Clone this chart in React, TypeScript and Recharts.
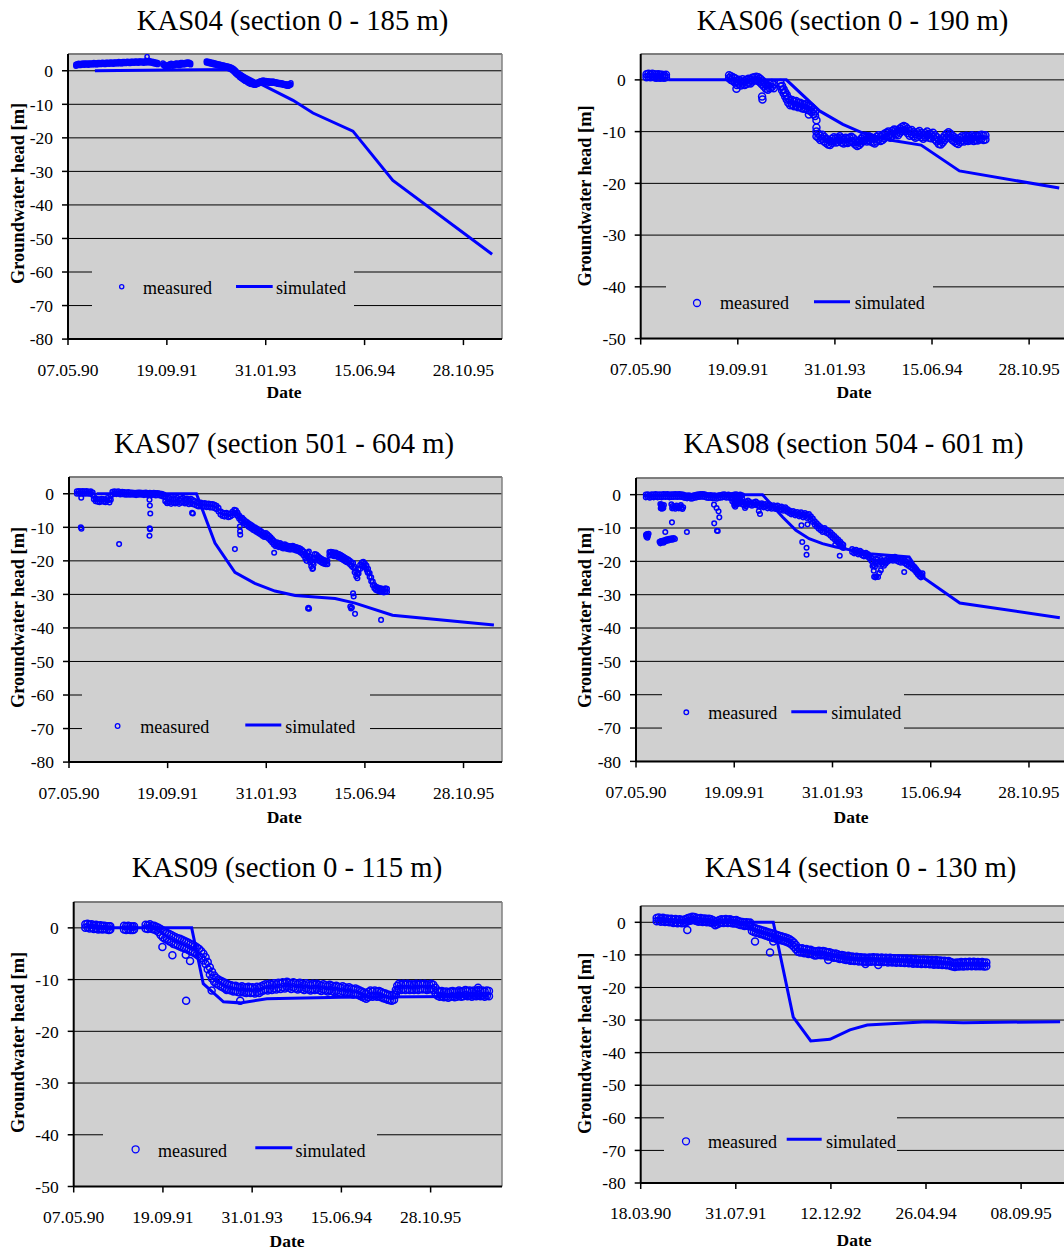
import {
  ComposedChart,
  Scatter,
  Line,
  XAxis,
  YAxis,
  CartesianGrid,
  ReferenceLine,
  Legend,
} from "recharts";

// Dates are Excel day serials (33000 = 07.05.90); heads in metres.
// Logger bands: [date, lowest reading, highest reading]; single readings: [date, head].
type Pt = [number, number];
type Band = [number, number, number];

const kas04Band: Band[] = [
  [33040,1.4,1.9],[33047,1.6,2.1],[33054,1.7,2.2],[33061,1.6,2.1],[33068,1.7,2.2],[33075,1.8,2.2],[33082,1.7,2.3],
  [33089,1.8,2.2],[33096,1.8,2.3],[33103,1.7,2.2],[33110,1.8,2.3],[33117,1.9,2.3],[33124,1.8,2.2],[33131,1.9,2.4],
  [33138,1.9,2.3],[33145,1.8,2.3],[33152,1.9,2.4],[33159,2.0,2.4],[33166,1.9,2.3],[33173,2.0,2.5],[33180,2.0,2.4],
  [33187,1.9,2.4],[33194,2.0,2.5],[33201,2.1,2.5],[33208,2.0,2.4],[33215,2.1,2.6],[33222,2.1,2.5],[33229,2.0,2.5],
  [33236,2.1,2.6],[33243,2.2,2.6],[33250,2.1,2.5],[33257,2.2,2.7],[33264,2.2,2.6],[33271,2.1,2.6],[33278,2.2,2.7],
  [33285,2.3,2.7],[33292,2.2,2.6],[33299,2.3,2.8],[33306,2.3,2.7],[33313,2.2,2.7],[33320,2.3,2.8],[33327,2.4,2.8],
  [33334,2.3,2.7],[33341,2.4,2.9],[33348,2.4,2.8],[33355,2.3,2.8],[33362,2.4,2.9],[33369,2.5,2.9],[33376,2.4,2.8],
  [33383,2.3,2.8],[33390,2.4,2.9],[33397,2.5,3.0],[33404,2.4,2.9],[33411,2.5,3.0],[33418,2.4,2.8],[33425,2.3,2.8],
  [33432,2.2,2.7],[33439,2.1,2.6],[33446,2.0,2.5],[33453,1.9,2.4],
  [33480,1.8,2.3],[33487,1.4,2.0],[33494,1.1,1.7],[33501,1.0,1.6],[33508,1.2,1.8],[33515,1.5,2.1],[33522,1.6,2.2],
  [33529,1.4,2.0],[33536,1.5,2.1],[33543,1.7,2.2],[33550,1.8,2.3],[33557,1.7,2.2],[33564,1.6,2.2],[33571,1.8,2.4],
  [33578,1.9,2.4],[33585,1.8,2.3],[33592,1.9,2.4],[33599,2.0,2.5],[33606,2.1,2.6],[33613,2.0,2.5],[33620,1.8,2.3],
  [33700,2.4,2.9],[33707,2.3,2.8],[33714,2.2,2.7],[33721,2.1,2.6],[33728,2.0,2.5],[33735,1.9,2.4],[33742,1.8,2.3],
  [33749,1.7,2.2],[33756,1.6,2.1],[33763,1.5,2.0],[33770,1.4,1.9],[33777,1.3,1.8],[33784,1.2,1.7],[33791,1.1,1.6],
  [33798,1.0,1.5],[33805,0.9,1.4],[33812,0.7,1.3],[33819,0.5,1.2],[33826,0.3,1.0],[33833,0.0,0.8],[33840,-0.4,0.5],
  [33847,-0.8,0.1],[33854,-1.2,-0.3],[33861,-1.5,-0.6],[33868,-1.9,-0.9],[33875,-2.2,-1.2],[33882,-2.5,-1.5],
  [33889,-2.8,-1.8],[33896,-3.1,-2.1],[33903,-3.3,-2.4],[33910,-3.6,-2.7],[33917,-3.8,-3.0],[33924,-4.0,-3.2],
  [33931,-4.1,-3.4],[33938,-4.2,-3.5],[33945,-4.3,-3.6],[33952,-4.2,-3.6],[33959,-4.0,-3.4],[33966,-3.8,-3.2],
  [33973,-3.6,-3.0],[33980,-3.5,-2.9],[33987,-3.4,-2.8],[33994,-3.4,-2.9],[34001,-3.5,-2.9],[34008,-3.6,-3.0],
  [34015,-3.6,-3.1],[34022,-3.7,-3.1],[34029,-3.7,-3.2],[34036,-3.6,-3.1],[34043,-3.7,-3.2],[34050,-3.8,-3.3],
  [34057,-3.9,-3.4],[34064,-4.0,-3.5],[34071,-4.1,-3.5],[34078,-4.1,-3.6],[34085,-4.2,-3.7],[34092,-4.3,-3.8],
  [34099,-4.4,-3.9],[34106,-4.5,-4.0],[34113,-4.6,-4.0],[34120,-4.4,-3.9],[34127,-4.2,-3.6],
];
const kas04Single: Pt[] = [[33400, 4.2]];
const kas04Simulated: Pt[] = [
  [33136, 0], [33500, 0.2], [33835, 0.4], [33986, -4.3], [34138, -8.8], [34239, -12.6],
  [34441, -18], [34643, -32.7], [35145, -54.7],
];

const kas06Band: Band[] = [
  [33030,0.5,1.1],[33040,0.6,1.2],[33050,0.5,1.0],[33060,0.6,1.2],[33070,0.5,1.1],[33080,0.4,1.0],[33090,0.5,1.1],
  [33100,0.4,1.0],[33110,0.5,1.0],[33120,0.4,0.9],[33130,0.5,1.0],
  [33455,0.3,0.9],[33465,0.0,0.7],[33475,-0.2,0.5],[33485,-0.5,0.3],[33495,-1.0,-0.2],[33505,-0.8,0.0],
  [33515,-1.1,-0.3],[33525,-0.7,0.1],[33535,-1.0,-0.2],[33545,-0.8,0.0],[33555,-0.6,0.2],[33565,-0.7,0.0],
  [33575,-0.3,0.4],[33585,-0.1,0.5],[33595,0.0,0.6],[33605,-0.2,0.5],[33615,-0.5,0.2],[33625,-0.9,-0.1],
  [33635,-1.3,-0.5],[33645,-1.7,-0.9],[33655,-1.9,-1.1],[33665,-1.6,-0.8],[33675,-1.4,-0.6],[33685,-1.6,-0.9],
  [33720,-1.3,-0.6],[33728,-2.0,-1.2],[33736,-2.6,-1.8],[33744,-3.2,-2.4],[33752,-3.8,-2.9],[33760,-4.4,-3.5],
  [33770,-4.9,-4.0],[33780,-4.8,-3.9],[33790,-5.1,-4.2],[33800,-5.0,-4.1],[33810,-5.3,-4.4],[33820,-5.2,-4.4],
  [33830,-5.5,-4.6],[33840,-5.6,-4.8],[33850,-5.5,-4.7],[33860,-5.8,-5.0],[33870,-5.9,-5.1],[33880,-6.2,-5.3],
  [33890,-6.6,-5.7],[33898,-7.0,-6.1],
  [33905,-10.9,-10.0],[33915,-11.2,-10.4],[33925,-11.6,-10.8],[33935,-11.4,-10.6],[33945,-11.9,-11.0],
  [33955,-12.2,-11.4],[33965,-12.5,-11.6],[33975,-12.6,-11.8],[33985,-12.2,-11.4],[33995,-11.9,-11.1],
  [34005,-12.1,-11.3],[34015,-12.0,-11.2],[34025,-11.7,-10.9],[34035,-12.1,-11.3],[34045,-12.3,-11.5],
  [34055,-12.0,-11.2],[34065,-12.2,-11.4],[34075,-12.0,-11.2],[34085,-11.8,-11.0],[34095,-12.1,-11.3],
  [34105,-12.5,-11.7],[34115,-12.8,-12.0],[34125,-12.6,-11.8],[34135,-12.2,-11.4],[34145,-11.8,-11.0],
  [34155,-11.6,-10.8],[34165,-11.9,-11.1],[34175,-11.7,-10.9],[34185,-11.9,-11.1],[34195,-12.1,-11.3],
  [34205,-12.3,-11.4],[34215,-11.9,-11.0],[34225,-11.5,-10.7],[34235,-11.8,-11.0],[34245,-11.6,-10.7],
  [34255,-11.3,-10.4],[34265,-11.0,-10.2],[34275,-10.9,-10.0],[34285,-11.2,-10.4],[34295,-10.8,-9.9],
  [34305,-10.4,-9.6],[34315,-10.5,-9.7],[34325,-10.7,-9.8],[34335,-10.2,-9.4],[34345,-9.9,-9.1],
  [34355,-9.7,-8.9],[34365,-9.9,-9.1],[34375,-10.3,-9.5],[34385,-10.8,-9.9],[34395,-10.5,-9.7],
  [34405,-10.9,-10.1],[34415,-11.2,-10.4],[34425,-11.0,-10.1],[34435,-10.7,-9.9],[34445,-11.1,-10.3],
  [34455,-11.4,-10.6],[34465,-11.1,-10.3],[34475,-10.8,-10.0],[34485,-11.2,-10.4],[34495,-11.3,-10.5],
  [34505,-11.0,-10.2],[34515,-11.5,-10.7],[34525,-11.9,-11.1],[34535,-12.4,-11.6],[34545,-12.5,-11.7],
  [34555,-12.1,-11.3],[34565,-11.6,-10.8],[34575,-11.2,-10.4],[34585,-10.9,-10.1],[34595,-11.2,-10.4],
  [34605,-11.6,-10.8],[34615,-11.9,-11.1],[34625,-12.2,-11.4],[34635,-12.4,-11.6],[34645,-12.0,-11.2],
  [34655,-11.7,-10.9],[34665,-11.9,-11.1],[34675,-11.6,-10.8],[34685,-11.8,-11.0],[34695,-11.7,-10.9],
  [34705,-11.5,-10.7],[34715,-11.8,-11.0],[34725,-11.6,-10.8],[34735,-11.7,-10.9],[34745,-11.5,-10.7],
  [34755,-11.4,-10.6],[34765,-11.6,-10.8],[34775,-11.5,-10.7],
];
const kas06Single: Pt[] = [[33493, -1.7], [33625, -3.2], [33627, -3.8], [33866, -6.7], [33905, -7.8], [33905, -9.2]];
const kas06Simulated: Pt[] = [
  [33142, 0], [33750, 0], [33921, -6.0], [34041, -8.6], [34144, -10.3], [34298, -11.7],
  [34444, -12.6], [34641, -17.6], [35155, -20.9],
];

const kas07Band: Band[] = [
  [33040,0.0,0.7],[33050,0.1,0.8],[33060,0.0,0.7],[33070,0.1,0.8],[33080,0.0,0.7],[33090,0.1,0.8],[33100,0.0,0.6],
  [33110,0.0,0.7],[33120,-0.4,0.4],[33126,-1.6,-0.6],[33135,-2.2,-1.4],[33145,-2.4,-1.6],[33155,-2.5,-1.7],
  [33165,-2.2,-1.5],[33175,-2.4,-1.6],[33185,-2.5,-1.8],[33195,-2.1,-1.3],[33205,-2.6,-1.8],[33212,-1.8,-0.6],
  [33220,-0.2,0.6],[33230,0.0,0.7],[33240,-0.1,0.6],[33250,0.0,0.7],[33260,-0.2,0.5],[33270,-0.1,0.6],
  [33280,-0.2,0.5],[33290,-0.3,0.4],[33300,-0.2,0.5],[33310,-0.3,0.4],[33320,-0.2,0.4],[33330,-0.3,0.3],
  [33340,-0.4,0.3],[33350,-0.3,0.4],[33360,-0.2,0.4],[33370,-0.3,0.3],[33380,-0.4,0.3],[33390,-0.3,0.4],
  [33400,-0.4,0.2],[33410,-0.3,0.3],[33420,-0.4,0.2],[33430,-0.3,0.3],[33440,-0.5,0.2],[33450,-0.4,0.2],
  [33460,-0.5,0.1],[33470,-0.7,0.0],[33480,-0.9,-0.2],
  [33488,-2.2,-1.0],[33498,-2.8,-1.4],[33508,-2.5,-1.2],[33518,-3.0,-1.6],[33528,-2.7,-1.3],[33538,-2.9,-1.5],
  [33548,-2.6,-1.2],[33558,-3.0,-1.7],[33568,-2.7,-1.4],[33578,-2.5,-1.2],[33588,-2.9,-1.6],[33598,-2.7,-1.4],
  [33608,-3.1,-1.8],[33618,-2.8,-1.5],[33628,-3.1,-1.9],[33638,-3.3,-2.2],
  [33648,-3.6,-2.6],[33658,-3.8,-2.8],[33668,-3.5,-2.6],[33678,-3.9,-2.9],[33688,-3.7,-2.8],[33698,-4.0,-3.0],
  [33708,-3.8,-2.9],[33718,-4.1,-3.1],[33728,-4.0,-3.1],[33738,-4.3,-3.3],[33748,-4.6,-3.6],[33758,-5.3,-4.2],
  [33768,-6.2,-5.2],[33778,-6.6,-5.6],[33788,-6.8,-5.8],[33798,-6.6,-5.7],[33808,-7.0,-6.0],[33818,-6.8,-5.9],
  [33828,-6.4,-5.4],[33838,-5.8,-4.8],[33846,-5.9,-4.9],[33854,-6.6,-5.6],
  [33862,-7.4,-6.4],[33870,-8.0,-7.0],[33878,-8.2,-7.2],[33886,-8.7,-7.7],[33894,-9.1,-8.1],[33902,-9.4,-8.4],
  [33910,-9.8,-8.8],[33918,-10.1,-9.1],[33926,-10.4,-9.4],[33934,-10.8,-9.8],[33942,-11.0,-10.0],
  [33950,-11.3,-10.3],[33958,-11.6,-10.6],[33966,-11.9,-10.9],[33974,-12.2,-11.2],[33982,-12.6,-11.6],
  [33990,-12.9,-11.9],[33998,-12.7,-11.7],[34006,-13.1,-12.1],[34014,-13.5,-12.5],[34022,-14.0,-13.0],
  [34030,-14.5,-13.5],[34038,-15.1,-14.0],[34046,-15.6,-14.6],[34054,-15.5,-14.5],[34062,-15.9,-14.9],
  [34070,-15.7,-14.7],[34078,-16.1,-15.1],[34086,-16.3,-15.3],[34094,-16.1,-15.1],[34102,-16.4,-15.4],
  [34110,-16.5,-15.5],[34118,-16.6,-15.6],[34126,-16.6,-15.7],[34134,-16.5,-15.5],[34142,-16.7,-15.7],
  [34150,-16.9,-15.9],[34158,-17.0,-16.0],[34166,-17.2,-16.2],[34174,-17.5,-16.4],[34182,-17.9,-16.8],
  [34190,-18.4,-17.2],[34198,-19.3,-17.8],[34204,-20.0,-18.5],[34210,-19.0,-17.6],[34216,-18.5,-17.2],
  [34222,-20.4,-18.8],[34228,-21.6,-20.0],[34234,-22.4,-20.6],[34240,-21.0,-19.2],[34246,-19.3,-18.0],
  [34254,-19.3,-18.1],[34262,-19.8,-18.6],[34270,-20.1,-19.0],[34278,-20.4,-19.3],[34286,-20.7,-19.6],
  [34294,-20.9,-19.8],[34302,-21.0,-19.9],[34310,-21.0,-20.0],
  [34320,-18.4,-17.4],[34328,-18.3,-17.3],[34336,-18.4,-17.4],[34344,-18.6,-17.6],[34352,-18.5,-17.5],
  [34360,-18.8,-17.8],[34368,-19.0,-18.0],[34376,-19.2,-18.2],[34384,-19.5,-18.5],[34392,-19.8,-18.8],
  [34400,-20.1,-19.1],[34408,-20.4,-19.4],[34416,-20.6,-19.6],[34424,-21.0,-20.0],[34432,-21.5,-20.4],
  [34440,-22.0,-20.6],[34448,-23.4,-21.8],[34456,-24.6,-23.2],[34462,-25.2,-23.8],[34468,-23.8,-22.4],
  [34476,-22.4,-21.2],[34484,-21.6,-20.5],[34492,-21.4,-20.3],[34500,-21.9,-20.8],[34508,-22.6,-21.4],
  [34516,-23.6,-22.4],[34524,-24.8,-23.6],[34532,-26.1,-24.9],[34540,-27.3,-26.2],[34548,-28.2,-27.2],
  [34556,-28.7,-27.7],[34564,-28.9,-27.9],[34572,-29.1,-28.1],[34580,-29.2,-28.2],[34588,-29.3,-28.3],
  [34596,-29.4,-28.4],[34604,-29.2,-28.2],[34612,-29.3,-28.3],
];
const kas07Single: Pt[] = [
  [33062, -1.2], [33060, -10.0], [33063, -10.4], [33254, -15.0], [33408, -1.8], [33410, -3.5],
  [33412, -5.9], [33409, -10.3], [33411, -10.6], [33408, -12.5], [33497, -2.7], [33624, -5.7],
  [33628, -5.9], [33841, -16.5], [33866, -9.8], [33867, -11.2], [33868, -12.2], [34040, -17.6],
  [34214, -34.0], [34217, -34.3], [34212, -34.2], [34237, -22.2], [34513, -23.3], [34440, -29.7],
  [34443, -30.6], [34426, -33.6], [34430, -34.2], [34434, -33.9], [34450, -35.8], [34582, -37.6],
];
const kas07Simulated: Pt[] = [
  [33140, 0], [33646, 0], [33740, -14.7], [33841, -23.4], [33942, -26.7], [34044, -29.0],
  [34146, -30.3], [34349, -31.2], [34450, -32.6], [34640, -36.2], [35154, -39.1],
];

const kas08Band: Band[] = [
  [33050,-0.8,0.0],[33060,-0.7,0.1],[33070,-0.9,-0.1],[33080,-0.7,0.1],[33090,-0.8,0.0],[33100,-0.6,0.2],
  [33110,-0.8,0.0],[33120,-0.7,0.1],[33130,-0.8,0.0],[33140,-0.6,0.2],[33150,-0.7,0.1],[33160,-0.6,0.2],
  [33170,-0.8,0.0],[33180,-0.7,0.1],[33190,-0.7,0.1],[33200,-0.6,0.2],[33210,-0.7,0.1],[33220,-0.6,0.2],
  [33230,-0.7,0.1],[33240,-0.8,0.0],[33250,-1.0,-0.2],[33260,-1.1,-0.3],[33270,-1.0,-0.2],[33280,-1.2,-0.4],
  [33290,-1.1,-0.3],[33300,-0.9,-0.1],[33310,-0.8,0.0],[33320,-0.7,0.1],[33330,-0.6,0.2],[33340,-0.6,0.2],
  [33350,-0.7,0.1],[33360,-0.9,-0.1],[33370,-1.0,-0.2],[33380,-0.9,-0.1],[33390,-1.1,-0.3],[33400,-1.0,-0.2],
  [33410,-1.2,-0.4],[33420,-1.0,-0.2],[33430,-0.9,-0.1],[33440,-0.8,0.0],[33450,-0.7,0.1],[33460,-0.9,-0.1],
  [33470,-0.8,0.0],[33480,-1.0,-0.2],[33490,-0.9,-0.1],[33500,-0.8,0.0],[33510,-0.7,0.1],[33520,-0.9,-0.1],
  [33530,-0.8,0.0],[33540,-1.0,-0.2],
  [33490,-2.0,-1.2],[33500,-2.6,-1.8],[33510,-3.0,-2.2],[33520,-2.8,-2.0],[33530,-2.5,-1.7],[33540,-2.9,-2.1],
  [33550,-3.2,-2.4],[33560,-2.9,-2.1],[33570,-2.6,-1.8],[33580,-3.0,-2.2],[33590,-3.3,-2.5],[33600,-3.1,-2.3],
  [33610,-2.9,-2.1],[33620,-3.3,-2.5],[33630,-3.6,-2.8],[33640,-3.4,-2.6],[33650,-3.8,-3.0],[33660,-3.6,-2.8],
  [33670,-4.1,-3.3],[33680,-3.8,-3.0],[33690,-4.2,-3.4],[33700,-4.0,-3.2],[33710,-4.3,-3.5],[33720,-4.1,-3.3],
  [33730,-4.6,-3.8],[33740,-4.4,-3.6],[33750,-4.8,-4.0],[33760,-4.6,-3.8],[33770,-5.1,-4.3],[33780,-5.5,-4.7],
  [33790,-5.9,-5.1],[33800,-5.7,-4.9],[33810,-6.2,-5.4],[33820,-6.0,-5.2],[33830,-6.5,-5.7],[33840,-6.3,-5.3],
  [33850,-6.8,-5.8],[33860,-6.5,-5.5],[33870,-7.0,-6.0],[33880,-6.8,-5.8],[33890,-7.5,-6.5],[33900,-8.2,-7.2],
  [33910,-9.0,-8.0],[33920,-9.6,-8.6],[33930,-10.2,-9.2],[33940,-10.7,-9.7],[33950,-11.2,-10.2],
  [33960,-11.0,-10.0],[33970,-11.5,-10.5],[33980,-11.8,-10.8],[33990,-12.3,-11.3],[34000,-12.9,-11.9],
  [34010,-13.4,-12.4],[34020,-14.0,-13.0],[34030,-14.5,-13.5],[34040,-15.1,-14.1],[34048,-15.7,-14.7],
  [34055,-16.0,-15.0],
  [34100,-17.2,-16.3],[34110,-17.6,-16.7],[34120,-17.4,-16.5],[34130,-17.9,-17.0],[34140,-17.7,-16.8],
  [34150,-18.2,-17.3],[34160,-18.5,-17.6],[34170,-18.3,-17.4],[34180,-18.7,-17.8],[34190,-19.2,-18.3],
  [34198,-19.9,-18.9],[34204,-21.4,-20.0],[34210,-22.8,-21.2],[34216,-21.6,-20.2],[34222,-20.2,-19.2],
  [34230,-20.5,-19.4],[34238,-21.0,-20.0],[34246,-20.3,-19.3],[34254,-20.9,-19.8],[34262,-21.3,-20.3],
  [34270,-20.7,-19.7],[34278,-20.2,-19.3],[34288,-19.8,-18.9],[34298,-19.6,-18.7],[34308,-19.8,-18.9],
  [34318,-19.5,-18.6],[34328,-19.9,-19.0],[34338,-20.2,-19.3],[34348,-20.4,-19.5],[34358,-20.1,-19.2],
  [34368,-20.6,-19.7],[34378,-21.0,-20.1],[34388,-21.4,-20.5],[34398,-21.8,-20.9],[34408,-22.2,-21.3],
  [34418,-22.7,-21.7],[34426,-23.3,-22.3],[34434,-23.9,-22.9],[34442,-24.4,-23.4],[34450,-24.8,-23.8],
  [34458,-24.5,-23.6],
];
const kas08Single: Pt[] = [
  [33124, -2.8], [33127, -3.3], [33130, -3.8], [33133, -4.2], [33136, -3.5], [33139, -4.0], [33142, -3.1],
  [33126, -4.1], [33132, -3.0],
  [33180, -2.9], [33186, -3.4], [33190, -4.0], [33196, -3.6], [33200, -4.2], [33206, -3.3], [33212, -3.8],
  [33218, -4.1], [33224, -3.5], [33230, -4.0], [33236, -4.3], [33240, -3.8], [33184, -4.1], [33228, -3.1],
  [33051, -12.0], [33053, -12.6], [33056, -11.8], [33058, -12.9], [33061, -12.3], [33064, -11.7], [33055, -12.3],
  [33120, -14.1], [33124, -14.6], [33130, -14.3], [33134, -13.8], [33140, -14.4], [33146, -13.6], [33150, -14.0],
  [33156, -13.4], [33162, -13.8], [33168, -13.2], [33174, -13.6], [33180, -13.1], [33186, -13.5], [33192, -13.0],
  [33198, -13.3], [33128, -13.9], [33144, -14.1],
  [33149, -11.2], [33183, -8.3], [33259, -11.2], [33397, -3.0], [33410, -4.0], [33420, -5.0], [33424, -6.8],
  [33398, -8.6], [33412, -10.8], [33416, -10.9], [33500, -3.2], [33505, -3.6], [33555, -4.0], [33560, -3.5],
  [33625, -4.9], [33631, -5.8],
  [33842, -9.2], [33873, -8.9], [33846, -14.2], [33868, -15.9], [33868, -18.0], [34014, -15.0], [34037, -18.3],
  [34212, -24.6], [34218, -24.8], [34224, -24.5], [34232, -24.7], [34246, -22.7], [34238, -23.5], [34365, -23.2],
];
const kas08Simulated: Pt[] = [
  [33140, 0], [33644, 0], [33746, -6.7], [33814, -10.7], [33881, -13.2], [33949, -14.7],
  [34017, -15.7], [34102, -16.7], [34187, -17.7], [34390, -18.7], [34458, -24.7], [34648, -32.5],
  [35157, -36.9],
];

const kas09Band: Band[] = [
  [33065,0.0,0.7],[33077,0.1,0.8],[33089,-0.1,0.6],[33101,0.0,0.7],[33113,-0.2,0.5],[33125,-0.1,0.6],
  [33137,-0.3,0.4],[33149,-0.2,0.5],[33161,-0.3,0.4],[33173,-0.2,0.4],[33185,-0.3,0.3],[33197,-0.4,0.3],
  [33205,-0.3,0.3],
  [33282,-0.3,0.4],[33294,-0.4,0.3],[33306,-0.3,0.4],[33318,-0.4,0.3],[33330,-0.4,0.2],[33338,-0.3,0.3],
  [33403,-0.1,0.6],[33415,-0.2,0.5],[33427,0.0,0.7],[33439,-0.2,0.4],[33451,-0.3,0.4],[33463,-0.5,0.2],
  [33475,-0.8,0.0],
  [33487,-1.4,-0.2],[33499,-1.8,-0.5],[33511,-2.1,-0.8],[33523,-2.3,-1.0],[33535,-2.6,-1.2],[33547,-2.8,-1.4],
  [33559,-3.1,-1.6],[33571,-3.2,-1.8],[33583,-3.4,-2.0],[33595,-3.6,-2.1],[33607,-3.8,-2.3],[33619,-3.9,-2.5],
  [33631,-4.1,-2.7],[33643,-4.3,-2.9],[33655,-4.5,-3.1],[33667,-4.7,-3.3],[33679,-4.9,-3.5],[33691,-5.2,-3.8],
  [33703,-5.5,-4.1],[33715,-5.8,-4.5],[33727,-6.3,-5.0],[33739,-7.0,-5.7],[33751,-8.0,-6.6],[33763,-9.0,-7.6],
  [33775,-9.8,-8.5],[33787,-10.4,-9.2],[33799,-10.8,-9.7],[33811,-11.0,-10.0],[33823,-11.3,-10.2],
  [33835,-11.5,-10.4],[33847,-11.7,-10.6],[33859,-11.9,-10.8],[33871,-12.0,-11.0],
  [33883,-12.1,-11.1],[33895,-12.3,-11.3],[33907,-12.2,-11.2],[33919,-12.4,-11.4],[33931,-12.5,-11.5],
  [33943,-12.3,-11.3],[33955,-12.5,-11.5],[33967,-12.6,-11.6],[33979,-12.4,-11.4],[33991,-12.6,-11.6],
  [34003,-12.5,-11.5],[34015,-12.7,-11.7],[34027,-12.4,-11.4],[34039,-12.6,-11.6],[34051,-12.3,-11.3],
  [34063,-12.1,-11.1],[34075,-11.9,-10.9],[34087,-12.1,-11.1],[34099,-11.8,-10.8],[34111,-12.0,-11.0],
  [34123,-11.7,-10.7],[34135,-11.9,-10.9],[34147,-11.6,-10.6],[34159,-11.8,-10.8],[34171,-11.5,-10.5],
  [34183,-11.7,-10.7],[34195,-11.4,-10.4],[34207,-11.6,-10.6],[34219,-11.8,-10.8],[34231,-11.5,-10.5],
  [34243,-11.7,-10.7],[34255,-11.9,-10.9],[34267,-11.6,-10.6],[34279,-11.8,-10.8],[34291,-12.0,-11.0],
  [34303,-11.7,-10.7],[34315,-11.9,-10.9],[34327,-12.1,-11.1],[34339,-11.8,-10.8],[34351,-12.0,-11.0],
  [34363,-11.8,-10.8],[34375,-12.0,-11.0],[34387,-12.2,-11.2],[34399,-11.9,-10.9],[34411,-12.1,-11.1],
  [34423,-12.3,-11.3],[34435,-12.0,-11.0],[34447,-12.2,-11.2],[34459,-12.4,-11.4],[34471,-12.2,-11.2],
  [34483,-12.4,-11.4],[34495,-12.6,-11.6],[34507,-12.3,-11.3],[34519,-12.5,-11.5],[34531,-12.7,-11.7],
  [34543,-12.5,-11.5],[34555,-12.7,-11.7],[34567,-12.9,-11.9],[34579,-12.7,-11.7],[34591,-12.9,-11.9],
  [34603,-13.1,-12.1],[34615,-13.3,-12.3],[34627,-13.5,-12.5],[34639,-13.7,-12.7],[34651,-13.4,-12.4],
  [34663,-13.1,-12.1],[34675,-13.3,-12.3],[34687,-13.1,-12.1],[34699,-13.3,-12.3],[34711,-13.2,-12.2],
  [34723,-13.4,-12.4],[34735,-13.6,-12.6],[34747,-13.7,-12.7],[34759,-13.9,-12.9],[34771,-14.0,-13.0],
  [34783,-14.1,-13.1],[34795,-13.9,-12.9],[34805,-13.0,-12.0],[34813,-12.2,-11.2],[34823,-11.8,-10.8],
  [34835,-12.0,-11.0],[34847,-11.8,-10.8],[34859,-12.0,-11.0],[34871,-11.8,-10.8],[34883,-12.0,-11.0],
  [34895,-11.9,-10.9],[34907,-12.0,-11.0],[34919,-11.8,-10.8],[34931,-12.0,-11.0],[34943,-11.8,-10.8],
  [34955,-11.9,-10.9],[34967,-11.8,-10.8],[34979,-12.0,-11.0],[34991,-11.9,-10.9],[35003,-11.8,-10.8],
  [35015,-12.0,-11.0],[35027,-12.6,-11.6],[35039,-13.1,-12.1],[35051,-13.3,-12.3],[35063,-13.2,-12.2],
  [35075,-13.4,-12.4],[35087,-13.3,-12.3],[35099,-13.5,-12.5],[35111,-13.3,-12.3],[35123,-13.2,-12.2],
  [35135,-13.4,-12.4],[35147,-13.3,-12.3],[35159,-13.1,-12.1],[35171,-13.3,-12.3],[35183,-13.2,-12.2],
  [35195,-13.0,-12.0],[35207,-13.2,-12.2],[35219,-13.1,-12.1],[35231,-13.3,-12.3],[35243,-13.1,-12.1],
  [35255,-13.2,-12.2],[35267,-13.0,-12.0],[35279,-13.2,-12.2],[35291,-13.1,-12.1],[35303,-13.3,-12.3],
  [35315,-13.1,-12.1],[35327,-13.2,-12.2],
];
const kas09Single: Pt[] = [
  [33497, -3.7], [33553, -5.3], [33628, -5.2], [33652, -6.4], [33630, -14.1], [33773, -12.1],
  [33857, -12.0], [33933, -14.1], [35266, -11.6],
];
const kas09Simulated: Pt[] = [
  [33140, 0], [33661, 0], [33726, -10.8], [33839, -14.3], [33933, -14.5], [34082, -13.7],
  [34500, -13.4], [35326, -13.2],
];

const kas14Band: Band[] = [
  [33034,0.3,1.3],[33045,0.5,1.5],[33056,0.2,1.2],[33067,0.4,1.4],[33078,0.1,1.1],[33089,0.2,1.2],[33100,0.0,1.0],
  [33111,0.1,1.1],[33122,-0.2,0.8],[33133,0.0,1.0],[33144,-0.3,0.7],[33155,-0.1,0.9],[33166,-0.3,0.7],
  [33177,-0.2,0.8],[33188,0.0,1.0],[33199,0.3,1.3],[33210,0.5,1.5],[33221,0.7,1.7],[33232,0.6,1.6],
  [33243,0.4,1.4],[33254,0.2,1.2],[33265,0.3,1.3],[33276,0.1,1.1],[33287,0.2,1.2],[33298,0.0,1.0],
  [33309,0.1,1.1],[33320,-0.1,0.9],[33331,-0.4,0.6],[33342,-0.9,0.1],[33353,-0.6,0.4],[33364,-0.3,0.7],
  [33375,-0.1,0.9],[33386,-0.2,0.8],[33397,0.0,1.0],[33408,-0.2,0.8],[33419,-0.1,0.9],[33430,-0.3,0.7],
  [33441,-0.4,0.6],[33452,-0.3,0.7],[33463,-0.6,0.4],[33474,-0.8,0.2],[33485,-0.9,0.1],[33496,-1.1,-0.1],
  [33507,-1.0,0.0],[33518,-1.2,-0.2],[33525,-1.1,-0.1],
  [33535,-2.7,-1.4],[33546,-3.0,-1.7],[33557,-3.2,-1.9],[33568,-3.3,-2.1],[33579,-3.6,-2.3],[33590,-3.7,-2.5],
  [33601,-4.0,-2.7],[33612,-4.1,-2.9],[33623,-4.4,-3.1],[33634,-4.5,-3.3],[33645,-4.8,-3.5],[33656,-4.9,-3.7],
  [33667,-5.2,-3.9],[33678,-5.3,-4.1],[33689,-5.5,-4.3],[33700,-5.7,-4.5],[33711,-5.9,-4.7],[33722,-6.1,-4.9],
  [33733,-6.4,-5.2],[33744,-6.9,-5.7],[33755,-7.5,-6.2],[33766,-8.3,-7.0],[33777,-9.0,-7.8],[33788,-9.3,-8.1],
  [33799,-9.2,-8.0],[33810,-9.5,-8.3],[33821,-9.4,-8.2],[33832,-9.7,-8.5],[33843,-9.6,-8.4],[33854,-9.9,-8.7],
  [33865,-10.2,-9.0],[33876,-10.1,-8.9],[33887,-9.9,-8.7],[33898,-10.1,-8.9],[33909,-10.0,-8.8],
  [33920,-10.2,-9.0],[33931,-10.5,-9.3],[33942,-10.4,-9.2],[33953,-10.6,-9.4],[33964,-10.9,-9.7],
  [33975,-10.8,-9.6],[33986,-11.0,-9.8],[33997,-11.3,-10.1],[34008,-11.2,-10.0],[34019,-11.4,-10.2],
  [34030,-11.6,-10.4],[34041,-11.5,-10.3],[34052,-11.8,-10.6],[34063,-11.7,-10.5],[34074,-11.9,-10.7],
  [34085,-11.8,-10.6],[34096,-12.0,-10.8],[34107,-11.9,-10.7],[34118,-12.1,-10.9],[34129,-12.0,-10.8],
  [34140,-12.2,-11.0],[34151,-12.0,-10.8],[34162,-12.1,-10.9],[34173,-11.9,-10.7],[34184,-12.1,-10.9],
  [34195,-12.0,-10.8],[34206,-12.2,-11.0],[34217,-12.0,-10.8],[34228,-12.2,-11.0],[34239,-12.1,-10.9],
  [34250,-12.3,-11.1],[34261,-12.1,-10.9],[34272,-12.3,-11.1],[34283,-12.2,-11.0],[34294,-12.4,-11.2],
  [34305,-12.2,-11.0],[34316,-12.4,-11.2],[34327,-12.3,-11.1],[34338,-12.5,-11.3],[34349,-12.3,-11.1],
  [34360,-12.6,-11.4],[34371,-12.4,-11.2],[34382,-12.7,-11.5],[34393,-12.5,-11.3],[34404,-12.7,-11.5],
  [34415,-12.6,-11.4],[34426,-12.8,-11.6],[34437,-12.6,-11.4],[34448,-12.8,-11.6],[34459,-12.7,-11.5],
  [34470,-12.9,-11.7],[34481,-12.8,-11.6],[34492,-13.0,-11.8],[34503,-12.8,-11.6],[34514,-13.0,-11.8],
  [34525,-12.9,-11.7],[34536,-13.1,-11.9],[34547,-13.0,-11.8],[34558,-13.2,-12.0],[34569,-13.1,-11.9],
  [34580,-13.4,-12.2],[34591,-13.6,-12.4],[34602,-13.7,-12.5],[34613,-13.5,-12.3],[34624,-13.6,-12.4],
  [34635,-13.4,-12.2],[34646,-13.6,-12.4],[34657,-13.4,-12.2],[34668,-13.5,-12.3],[34679,-13.3,-12.1],
  [34690,-13.5,-12.3],[34701,-13.3,-12.1],[34712,-13.5,-12.3],[34723,-13.4,-12.2],[34734,-13.5,-12.3],
  [34745,-13.4,-12.2],[34756,-13.6,-12.4],[34767,-13.5,-12.3],
];
const kas14Single: Pt[] = [
  [33195, -2.4], [33551, -5.9], [33630, -9.3], [33647, -5.9], [33670, -5.3], [33936, -11.6],
  [34132, -12.8], [34199, -13.1],
];
const kas14Simulated: Pt[] = [
  [33140, 0], [33647, 0], [33752, -29.1], [33844, -36.4], [33945, -35.9], [34050, -33.0],
  [34141, -31.5], [34454, -30.5], [34646, -30.8], [35155, -30.5],
];

const dateTicks = [33000, 33500, 34000, 34500, 35000];
const dateTicks14 = [32950, 33450, 33950, 34450, 34950];
const headTicks80 = [-80, -70, -60, -50, -40, -30, -20, -10, 0];
const headTicks50 = [-50, -40, -30, -20, -10, 0];

const BLUE = "#0000FF";
const PLOT_BG = "#D0D0D0";
const SERIF = "'Times New Roman', 'Liberation Serif', serif";
const CHART_W = 520;
const RING_W = 1.5;

const EXCEL_EPOCH = Date.UTC(1899, 11, 30);
function fmtDate(serial: number): string {
  const d = new Date(EXCEL_EPOCH + serial * 86400000);
  const dd = String(d.getUTCDate()).padStart(2, "0");
  const mm = String(d.getUTCMonth() + 1).padStart(2, "0");
  const yy = String(d.getUTCFullYear() % 100).padStart(2, "0");
  return `${dd}.${mm}.${yy}`;
}

const measuredRows = (band: Band[], single: Pt[]) => [
  ...band.flatMap(([x, lo, hi]) => [{ x, y: lo }, { x, y: hi }]),
  ...single.map(([x, y]) => ({ x, y })),
];
const lineRows = (pts: Pt[]) => pts.map(([x, y]) => ({ x, y }));

interface LegendSpec {
  x: number;
  y: number;
  w: number;
  h: number;
  dot: [number, number];
  mText: [number, number];
  line: [number, number, number];
  sText: [number, number];
}

interface PanelSpec {
  title: string;
  band: Band[];
  single: Pt[];
  simulated: Pt[];
  left: number;
  plot: { x: number; y: number; w: number; h: number };
  xDomain: [number, number];
  xTicks: number[];
  yDomain: [number, number];
  yTicks: number[];
  r: number;
  legend: LegendSpec;
  titleAt: [number, number];
  yLabelAt: [number, number];
  dateAt: [number, number];
}

const panels: PanelSpec[] = [
  {
    title: "KAS04 (section 0 - 185 m)",
    band: kas04Band,
    single: kas04Single,
    simulated: kas04Simulated,
    left: 0,
    plot: { x: 68, y: 53.9, w: 434, h: 285.1 },
    xDomain: [33000, 35195],
    xTicks: dateTicks,
    yDomain: [-80, 5],
    yTicks: headTicks80,
    r: 2.1,
    legend: { x: 92, y: 258, w: 262, h: 60, dot: [121.7, 286.7], mText: [143, 294], line: [236, 272.7, 286.5], sText: [276, 294] },
    titleAt: [292.5, 29.5],
    yLabelAt: [18, 193.5],
    dateAt: [284, 398],
  },
  {
    title: "KAS06 (section 0 - 190 m)",
    band: kas06Band,
    single: kas06Single,
    simulated: kas06Simulated,
    left: 560,
    plot: { x: 640.7, y: 54.4, w: 426.3, h: 284.6 },
    xDomain: [33000, 35195],
    xTicks: dateTicks,
    yDomain: [-50, 5],
    yTicks: headTicks50,
    r: 3.5,
    legend: { x: 666, y: 270, w: 267, h: 55, dot: [697, 303], mText: [720, 309.3], line: [814, 850, 301.7], sText: [854.7, 309.3] },
    titleAt: [852.5, 29.5],
    yLabelAt: [585, 196],
    dateAt: [854, 398.3],
  },
  {
    title: "KAS07 (section 501 - 604 m)",
    band: kas07Band,
    single: kas07Single,
    simulated: kas07Simulated,
    left: 0,
    plot: { x: 69, y: 477.2, w: 433, h: 285.1 },
    xDomain: [33000, 35195],
    xTicks: dateTicks,
    yDomain: [-80, 5],
    yTicks: headTicks80,
    r: 2.3,
    legend: { x: 81.7, y: 683, w: 288.3, h: 60, dot: [117.3, 726], mText: [140, 733.3], line: [245, 281, 725], sText: [285, 733.3] },
    titleAt: [284, 452.5],
    yLabelAt: [18.3, 617.5],
    dateAt: [284.2, 822.7],
  },
  {
    title: "KAS08 (section 504 - 601 m)",
    band: kas08Band,
    single: kas08Single,
    simulated: kas08Simulated,
    left: 560,
    plot: { x: 636, y: 477.6, w: 431.3, h: 283.4 },
    xDomain: [33000, 35195],
    xTicks: dateTicks,
    yDomain: [-80, 5],
    yTicks: headTicks80,
    r: 2.3,
    legend: { x: 661.7, y: 684, w: 242.3, h: 54, dot: [686, 712.3], mText: [708, 719.3], line: [791, 826.7, 711.7], sText: [831, 719.3] },
    titleAt: [853.5, 452.5],
    yLabelAt: [585, 617.5],
    dateAt: [851, 823],
  },
  {
    title: "KAS09 (section 0 - 115 m)",
    band: kas09Band,
    single: kas09Single,
    simulated: kas09Simulated,
    left: 0,
    plot: { x: 73.7, y: 901.8, w: 428.3, h: 284.5 },
    xDomain: [33000, 35400],
    xTicks: dateTicks,
    yDomain: [-50, 5],
    yTicks: headTicks50,
    r: 3.5,
    legend: { x: 102.7, y: 1120, w: 274, h: 55, dot: [135.3, 1149.3], mText: [157.7, 1156.7], line: [255, 292, 1147.7], sText: [295.3, 1156.7] },
    titleAt: [287, 876.5],
    yLabelAt: [18.3, 1042.5],
    dateAt: [287, 1246.5],
  },
  {
    title: "KAS14 (section 0 - 130 m)",
    band: kas14Band,
    single: kas14Single,
    simulated: kas14Simulated,
    left: 560,
    plot: { x: 640.7, y: 906, w: 427.95, h: 277 },
    xDomain: [32950, 35200],
    xTicks: dateTicks14,
    yDomain: [-80, 5],
    yTicks: headTicks80,
    r: 3.5,
    legend: { x: 664, y: 1108, w: 232.7, h: 54, dot: [686, 1141.3], mText: [708, 1147.7], line: [786.7, 821.7, 1139.3], sText: [826, 1147.7] },
    titleAt: [860.5, 876.5],
    yLabelAt: [585, 1043.3],
    dateAt: [854, 1246],
  },
];

const tickStyle = { fontSize: 17.5, fill: "#000", fontFamily: SERIF };

function LegendBox({ lg, r }: { lg: LegendSpec; r: number }) {
  // legend coordinates are page-absolute; shift into the box
  const ox = lg.x;
  const oy = lg.y;
  return (
    <svg width={lg.w} height={lg.h} style={{ display: "block", fontFamily: SERIF }}>
      <circle cx={lg.dot[0] - ox} cy={lg.dot[1] - oy} r={r} fill="none" stroke={BLUE} strokeWidth={1.3} />
      <text x={lg.mText[0] - ox} y={lg.mText[1] - oy} fontSize={18} fontFamily={SERIF} fill="#000">
        measured
      </text>
      <line x1={lg.line[0] - ox} x2={lg.line[1] - ox} y1={lg.line[2] - oy} y2={lg.line[2] - oy} stroke={BLUE} strokeWidth={3} />
      <text x={lg.sText[0] - ox} y={lg.sText[1] - oy} fontSize={18} fontFamily={SERIF} fill="#000">
        simulated
      </text>
    </svg>
  );
}

function Panel({ s }: { s: PanelSpec }) {
  const top = s.plot.y - 10;
  const height = s.plot.h + 10 + 50;
  const yAxisW = s.plot.x - s.left;
  const marginRight = s.left + CHART_W - (s.plot.x + s.plot.w);
  const r = s.r;
  return (
    <div style={{ position: "absolute", left: s.left, top, fontFamily: SERIF }}>
      <ComposedChart
        width={CHART_W}
        height={height}
        margin={{ top: 10, right: marginRight, bottom: 0, left: 0 }}
      >
        <CartesianGrid vertical={false} stroke="#000" strokeWidth={1} fill={PLOT_BG} fillOpacity={1} />
        <XAxis
          type="number"
          dataKey="x"
          domain={s.xDomain}
          ticks={s.xTicks}
          interval={0}
          allowDataOverflow
          tickFormatter={fmtDate}
          height={50}
          tickSize={6}
          tickMargin={18}
          tick={tickStyle}
          axisLine={{ stroke: "#000", strokeWidth: 2 }}
          tickLine={{ stroke: "#000", strokeWidth: 1.5 }}
        />
        <YAxis
          type="number"
          dataKey="y"
          domain={s.yDomain}
          ticks={s.yTicks}
          interval={0}
          allowDataOverflow
          width={yAxisW}
          tickSize={6}
          tickMargin={9}
          tick={tickStyle}
          axisLine={{ stroke: "#000", strokeWidth: 2 }}
          tickLine={{ stroke: "#000", strokeWidth: 1.5 }}
        />
        <ReferenceLine y={s.yDomain[1]} stroke="#808080" strokeWidth={1.5} />
        <ReferenceLine x={s.xDomain[1]} stroke="#808080" strokeWidth={1.5} />
        <Scatter
          name="measured"
          data={measuredRows(s.band, s.single)}
          isAnimationActive={false}
          shape={(p: any) => (
            <circle cx={p.cx} cy={p.cy} r={r} fill="none" stroke={BLUE} strokeWidth={RING_W} />
          )}
        />
        <Line
          name="simulated"
          data={lineRows(s.simulated)}
          dataKey="y"
          type="linear"
          stroke={BLUE}
          strokeWidth={3}
          dot={false}
          activeDot={false}
          isAnimationActive={false}
        />
        <Legend
          layout="horizontal"
          verticalAlign="middle"
          align="center"
          content={() => <LegendBox lg={s.legend} r={r} />}
          wrapperStyle={{
            left: s.legend.x - s.left,
            top: s.legend.y - top,
            width: s.legend.w,
            height: s.legend.h,
            background: PLOT_BG,
            margin: 0,
            padding: 0,
          }}
        />
      </ComposedChart>
    </div>
  );
}

export default function App() {
  return (
    <div
      style={{
        position: "absolute",
        left: 0,
        top: 0,
        width: 1064,
        height: 1250,
        overflow: "hidden",
        background: "#fff",
        fontFamily: SERIF,
      }}
    >
      {panels.map((p) => (
        <Panel key={p.title} s={p} />
      ))}
      <svg
        width={1064}
        height={1250}
        style={{ position: "absolute", left: 0, top: 0, pointerEvents: "none" }}
      >
        {panels.map((p) => (
          <g key={p.title} fontFamily={SERIF} fill="#000">
            <text x={p.titleAt[0]} y={p.titleAt[1]} fontSize={28.7} textAnchor="middle">
              {p.title}
            </text>
            <text
              transform={`translate(${p.yLabelAt[0]},${p.yLabelAt[1]}) rotate(-90)`}
              fontSize={18.4}
              fontWeight="bold"
              textAnchor="middle"
              dominantBaseline="central"
            >
              Groundwater head [m]
            </text>
            <text x={p.dateAt[0]} y={p.dateAt[1]} fontSize={17.5} fontWeight="bold" textAnchor="middle">
              Date
            </text>
          </g>
        ))}
      </svg>
    </div>
  );
}
